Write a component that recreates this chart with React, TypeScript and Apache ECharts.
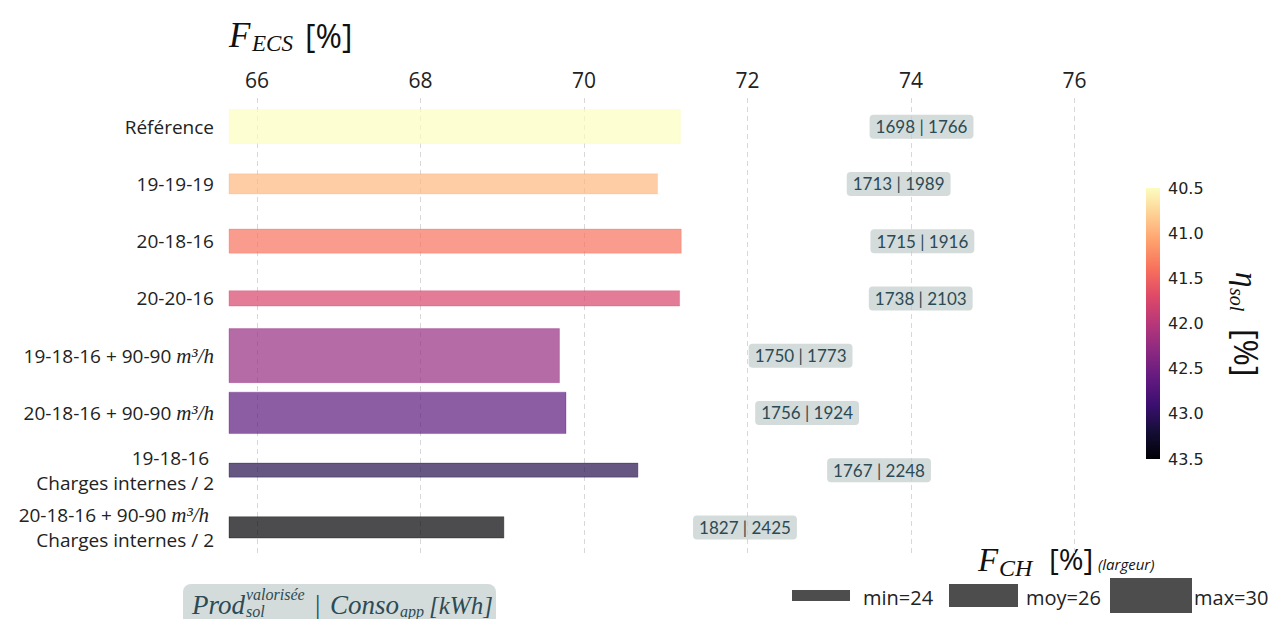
import React, { useEffect, useRef } from "react";
import * as echarts from "echarts";

// ---------- data ----------
const categories = [
  "Référence",
  "19-19-19",
  "20-18-16",
  "20-20-16",
  "19-18-16 + 90-90 m³/h",
  "20-18-16 + 90-90 m³/h",
  "19-18-16 \nCharges internes / 2",
  "20-18-16 + 90-90 m³/h \nCharges internes / 2",
];
const fecs = [71.18, 70.9, 71.19, 71.17, 69.7, 69.78, 70.66, 69.02];
const etaSol = [40.5, 40.95, 41.4, 41.76, 42.24, 42.66, 43.08, 43.5];
const fch = [27.0, 24.9, 25.5, 24.2, 30.0, 28.1, 24.0, 25.1];
const prodValorisee = [1698, 1713, 1715, 1738, 1750, 1756, 1767, 1827];
const consoApp = [1766, 1989, 1916, 2103, 1773, 1924, 2248, 2425];
const legendFch = [
  { name: "min", value: 24 },
  { name: "moy", value: 26 },
  { name: "max", value: 30 },
];
const etaMin = 40.5;
const etaMax = 43.5;
const etaStep = 0.5;

// magma colormap, light (low eta) -> dark (high eta)
const MAGMA = [
  "#fcfdbf", "#fecf92", "#fe9f6d", "#f7705c", "#de4968", "#b73779",
  "#8c2981", "#641a80", "#3b0f70", "#140e36", "#000004",
];

const SANS = "'Open Sans', 'Noto Sans', sans-serif";
const SERIF = "'Liberation Serif', 'DejaVu Serif', serif";
const LABEL_FONT = "Lato, 'Open Sans', sans-serif";

const X_MIN = 65.657;
const X_MAX = 76.35;
const FCH_ZERO = 21.9;
const PX_PER_FCH = 6.67;
const LABEL_OFFSET = 2.95;

export default function App() {
  const ref = useRef<HTMLDivElement>(null);

  useEffect(() => {
    if (!ref.current) return;
    const chart = echarts.init(ref.current, undefined, { renderer: "svg" });

    const barData = categories.map((_, i) => [
      fecs[i], i, etaSol[i], fch[i], prodValorisee[i], consoApp[i],
    ]);

    const textColor = "#222";
    const boxText = "#2c4b55";

    const legendRects = [
      { x: 792, y: 590, w: 58, h: 11, tx: 863 },
      { x: 949, y: 584, w: 69, h: 23, tx: 1026 },
      { x: 1110, y: 578, w: 82, h: 35, tx: 1194 },
    ];

    const graphics: any[] = [
      // title F_ECS [%]
      { type: "text", x: 229, y: 35, style: { text: "F", font: `italic 35px ${SERIF}`, fill: "#111", verticalAlign: "middle" } },
      { type: "text", x: 252, y: 43, style: { text: "ECS", font: `italic 23px ${SERIF}`, fill: "#111", verticalAlign: "middle" } },
      { type: "text", x: 305, y: 35, style: { text: "[%]", font: `32px ${SANS}`, fill: "#111", verticalAlign: "middle" } },
      // eta_sol [%] rotated label
      {
        type: "group", x: 1246, y: 322, rotation: -Math.PI / 2,
        children: [
          { type: "text", x: -50, y: 0, style: { text: "η", font: `italic 31px ${SERIF}`, fill: "#111", verticalAlign: "middle" } },
          { type: "text", x: -34, y: 9, style: { text: "sol", font: `italic 20px ${SERIF}`, fill: "#111", verticalAlign: "middle" } },
          { type: "text", x: 7, y: 0, style: { text: "[%]", font: `32px ${SANS}`, fill: "#111", verticalAlign: "middle" } },
        ],
      },
      // bottom-left box
      { type: "rect", shape: { x: 183, y: 584, width: 313, height: 50, r: 8 }, style: { fill: "#d4dcdb" } },
      { type: "text", x: 192, y: 605, style: { text: "Prod", font: `italic 27px ${SERIF}`, fill: boxText, verticalAlign: "middle" } },
      { type: "text", x: 246, y: 594, style: { text: "valorisée", font: `italic 16px ${SERIF}`, fill: boxText, verticalAlign: "middle" } },
      { type: "text", x: 246, y: 611, style: { text: "sol", font: `italic 16px ${SERIF}`, fill: boxText, verticalAlign: "middle" } },
      { type: "text", x: 315, y: 605, style: { text: "|", font: `27px ${SERIF}`, fill: boxText, verticalAlign: "middle" } },
      { type: "text", x: 330, y: 605, style: { text: "Conso", font: `italic 27px ${SERIF}`, fill: boxText, verticalAlign: "middle" } },
      { type: "text", x: 400, y: 611, style: { text: "app", font: `italic 16px ${SERIF}`, fill: boxText, verticalAlign: "middle" } },
      { type: "text", x: 429, y: 605, style: { text: "[kWh]", font: `italic 25px ${SERIF}`, fill: boxText, verticalAlign: "middle" } },
      // F_CH legend
      { type: "text", x: 978, y: 560, style: { text: "F", font: `italic 33px ${SERIF}`, fill: "#111", verticalAlign: "middle" } },
      { type: "text", x: 999, y: 568, style: { text: "CH", font: `italic 24px ${SERIF}`, fill: "#111", verticalAlign: "middle" } },
      { type: "text", x: 1049, y: 558, style: { text: "[%]", font: `30px ${SANS}`, fill: "#111", verticalAlign: "middle" } },
      { type: "text", x: 1098, y: 564, style: { text: "(largeur)", font: `italic 15px ${SANS}`, fill: "#111", verticalAlign: "middle" } },
      ...legendFch.flatMap((l, i) => {
        const r = legendRects[i];
        return [
          { type: "rect", shape: { x: r.x, y: r.y, width: r.w, height: r.h }, style: { fill: "#4d4d4d" } },
          { type: "text", x: r.tx, y: 597, style: { text: `${l.name}=${l.value}`, font: `20px ${SANS}`, fill: textColor, verticalAlign: "middle" } },
        ];
      }),
    ];

    const option: any = {
      animation: false,
      backgroundColor: "#ffffff",
      grid: [
        { left: 229, right: 1274 - 1103, top: 98, bottom: 619 - 556, containLabel: false },
        { left: 1146, width: 14, top: 188, height: 271, containLabel: false },
      ],
      xAxis: [
        {
          type: "value", gridIndex: 0, position: "top", min: X_MIN, max: X_MAX, splitNumber: 5,
          axisLine: { show: false }, axisTick: { show: false },
          axisLabel: { fontSize: 21, color: textColor, fontFamily: SANS, margin: 8, showMinLabel: false, showMaxLabel: false },
          splitLine: { show: true, showMinLine: false, showMaxLine: false, lineStyle: { type: [5, 4], color: "#d8d8d8", width: 1 } },
        },
        { type: "value", gridIndex: 1, min: 0, max: 1, show: false },
      ],
      yAxis: [
        {
          type: "category", gridIndex: 0, data: categories, inverse: true,
          axisLine: { show: false }, axisTick: { show: false }, splitLine: { show: false },
          axisLabel: {
            fontSize: 19, color: textColor, fontFamily: SANS, margin: 15, lineHeight: 25,
            formatter: (v: string) => v.split("m³/h").join("{i|m³/h}"),
            rich: { i: { fontFamily: SERIF, fontStyle: "italic", fontSize: 21, color: textColor, lineHeight: 25 } },
          },
        },
        {
          type: "value", gridIndex: 1, min: etaMin, max: etaMax, interval: etaStep, inverse: true, position: "right",
          axisLine: { show: false }, axisTick: { show: false }, splitLine: { show: false },
          axisLabel: { fontSize: 16, color: textColor, fontFamily: "'DejaVu Sans', sans-serif", margin: 8, formatter: (v: number) => v.toFixed(1) },
        },
      ],
      visualMap: [
        { type: "continuous", show: false, seriesIndex: 0, dimension: 2, min: etaMin, max: etaMax, inRange: { color: MAGMA } },
      ],
      series: [
        {
          type: "custom", xAxisIndex: 0, yAxisIndex: 0, data: barData,
          encode: { x: 0, y: 1 },
          renderItem: (params: any, api: any) => {
            const val = api.value(0);
            const idx = api.value(1);
            const f = api.value(3);
            const start = api.coord([X_MIN, idx]);
            const end = api.coord([val, idx]);
            const h = (f - FCH_ZERO) * PX_PER_FCH;
            const color = api.visual("color");
            const lp = api.coord([val + LABEL_OFFSET, idx]);
            return {
              type: "group",
              children: [
                {
                  type: "rect",
                  shape: { x: start[0], y: start[1] - h / 2, width: end[0] - start[0], height: h },
                  style: { fill: color, fillOpacity: 0.7, stroke: color, strokeOpacity: 0.3, lineWidth: 1 },
                },
                {
                  type: "text", x: lp[0], y: lp[1],
                  style: {
                    text: `${api.value(4)} | ${api.value(5)}`,
                    align: "center", verticalAlign: "middle",
                    font: `17px ${LABEL_FONT}`, fill: "#2b4a53",
                    backgroundColor: "rgba(190,202,202,0.68)", padding: [4, 6, 3, 6], borderRadius: 4,
                  },
                },
              ],
            };
          },
        },
        {
          type: "custom", xAxisIndex: 1, yAxisIndex: 1, data: [[0, etaMin]], silent: true,
          renderItem: (params: any, api: any) => {
            const a = api.coord([0, etaMin]);
            const b = api.coord([1, etaMax]);
            const stops = MAGMA.map((c, i) => ({ offset: i / (MAGMA.length - 1), color: c }));
            return {
              type: "rect",
              shape: { x: a[0], y: a[1], width: b[0] - a[0], height: b[1] - a[1] },
              style: { fill: new echarts.graphic.LinearGradient(0, 0, 0, 1, stops) },
            };
          },
        },
      ],
      graphic: graphics,
    };

    chart.setOption(option);
    return () => chart.dispose();
  }, []);

  return (
    <div
      ref={ref}
      style={{ position: "absolute", left: 0, top: 0, width: 1274, height: 619, background: "#fff" }}
    />
  );
}
